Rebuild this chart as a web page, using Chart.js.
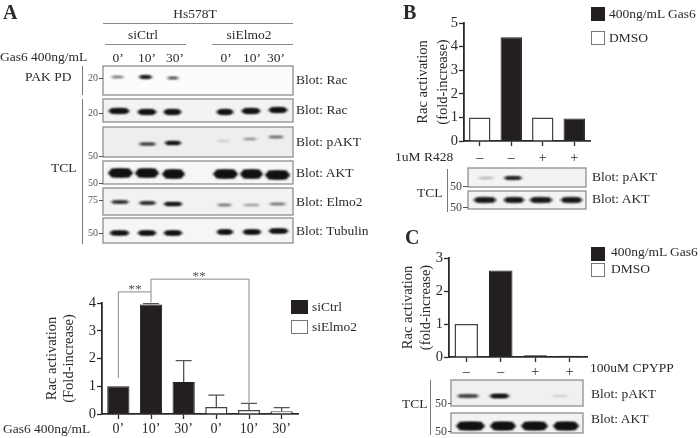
<!DOCTYPE html>
<html><head><meta charset="utf-8">
<script src="https://cdn.jsdelivr.net/npm/chart.js@4"></script>
<style>
html,body{margin:0;padding:0;background:#fff;width:700px;height:438px;overflow:hidden}
#stage{position:relative;width:700px;height:438px;font-family:"Liberation Serif",serif;color:#2a2a2a}
canvas{position:absolute}
.t{position:absolute;white-space:pre;line-height:1}
.sw{position:absolute;box-sizing:border-box}
</style></head><body><div id="stage"><canvas id="blots" width="700" height="438" style="left:0;top:0"></canvas></div>
<script>
// ---------- chart data ----------
const timeLabels = ['0’','10’','30’','0’','10’','30’'];
const aSiCtrl  = [1.0,3.95,1.15,null,null,null];
const aSiElmo2 = [null,null,null,0.25,0.14,0.1];
const aErrorTop = [null,3.98,1.92,0.68,0.38,0.23];
const bLabels = ['–','–','+','+'];
const bGas6 = [null,4.4,null,0.95];
const bDmso = [1,null,1,null];
const cLabels = ['–','–','+','+'];
const cGas6 = [null,2.62,0.05,0.04];
const cDmso = [1,null,null,null];
// significance brackets, in category index / axis value
const aBrackets = [
  {from:0,to:1,top:4.4,fromEnd:1.3,toEnd:4.02},
  {from:1,to:4,top:4.86,fromEnd:4.4,toEnd:0.43}
];
// blot band strengths (0..1) per lane
const laneRacPD  = [0.4,0.95,0.55,0,0,0];
const laneRacTCL = [1,1,1,1,1,1];
const lanePAkt   = [0,0.65,1,0.1,0.28,0.42];
const laneAkt    = [1,1,1,1,1,1];
const laneElmo2  = [0.75,0.8,1,0.4,0.25,0.4];
const laneTubulin= [0.95,1,1,1,1,1];
const bPAkt = [0.18,0.9,0,0];
const bAkt  = [0.85,0.85,0.85,0.85];
const cPAkt = [0.65,1,0,0.08];
const cAkt  = [1,1,1,1];

// ---------- page text ----------
const stage = document.getElementById('stage');
function T(s,x,y,o={}){
  const e=document.createElement('div');e.className='t';e.textContent=s;
  const a=o.a==='c'?'-50%':(o.a==='r'?'-100%':'0');
  e.style.left=x+'px';e.style.top=y+'px';e.style.transform=`translate(${a},-50%)`;
  e.style.fontSize=(o.s||13.5)+'px';
  if(o.b)e.style.fontWeight='bold';
  if(o.c)e.style.color=o.c;
  stage.appendChild(e);
}
function L(x,y,w,h,c){const e=document.createElement('div');e.className='sw';
  e.style.cssText+=`left:${x}px;top:${y}px;width:${w}px;height:${h}px;background:${c}`;stage.appendChild(e);}
function SW(x,y,w,h,black){const e=document.createElement('div');e.className='sw';
  e.style.cssText+=`left:${x}px;top:${y}px;width:${w}px;height:${h}px;background:${black?'#231f20':'#fff'};border:1.5px solid ${black?'#231f20':'#777'}`;stage.appendChild(e);}

T('A',3,12,{s:20,b:1});T('B',403,12,{s:20,b:1});T('C',405,237,{s:20,b:1});
T('Hs578T',195,14,{a:'c'});L(103,23,190,1,'#888');
T('siCtrl',143,35,{a:'c'});L(105,44,81,1,'#888');
T('siElmo2',249,35,{a:'c'});L(212,44,81,1,'#888');
T('Gas6 400ng/mL',0,57);
[118,147,175,226,252,276].forEach((x,i)=>T(timeLabels[i],x,58,{a:'c'}));
T('PAK PD',25,77);T('TCL',51,168);
L(82,66,1,29,'#777');L(82,99,1,145,'#777');
[['20',78],['20',113],['50',156],['50',183],['75',200],['50',233]].forEach(([s,y])=>{T(s,98,y,{a:'r',s:10,c:'#555'});L(99,y,4,1,'#555');});
[['Blot: Rac',80],['Blot: Rac',110],['Blot: pAKT',142],['Blot: AKT',173],['Blot: Elmo2',202],['Blot: Tubulin',231]].forEach(([s,y])=>T(s,296,y));
T('Gas6 400ng/mL',3,429);
T('**',135,289,{a:'c',c:'#555'});T('**',199,276,{a:'c',c:'#555'});
SW(291,300,17,14,true);T('siCtrl',312,307);
SW(291,320,17,14,false);T('siElmo2',312,327);
// B
SW(591,7,14,14,true);T('400ng/mL Gas6',609,14);
SW(591,31,14,14,false);T('DMSO',609,38);
T('1uM R428',395,157);T('TCL',417,193);L(447,169,1,43,'#777');
[['50',186],['50',207]].forEach(([s,y])=>{T(s,462,y,{a:'r',s:12,c:'#444'});L(463,y,5,1,'#555');});
T('Blot: pAKT',592,177);T('Blot: AKT',592,199);
// C
SW(591,247,14,14,true);T('400ng/mL Gas6',611,252);
SW(591,263,14,14,false);T('DMSO',611,269);
T('100uM CPYPP',590,368);T('TCL',402,404);L(430,380,1,55,'#777');
[['50',403],['50',431]].forEach(([s,y])=>{T(s,447,y,{a:'r',s:12,c:'#444'});L(448,y,3,1,'#555');});
T('Blot: pAKT',591,394);T('Blot: AKT',591,419);

// ---------- blot panels (photographic decoration) ----------
const bx=document.getElementById('blots').getContext('2d');
function blot(x0,x1,y0,y1,bg,lanes,ys,strength,h){
  bx.fillStyle=bg;bx.fillRect(x0,y0,x1-x0,y1-y0);
  bx.save();bx.beginPath();bx.rect(x0,y0,x1-x0,y1-y0);bx.clip();
  bx.filter='blur(1px)';
  lanes.forEach((l,i)=>{const v=strength[i];if(!v)return;
    const y=Array.isArray(ys)?ys[i]:ys;
    const hh=h*(0.5+0.5*v);
    bx.fillStyle=`rgba(18,16,16,${Math.min(1,v)})`;
    bx.beginPath();bx.ellipse((l[0]+l[1])/2,y,(l[1]-l[0])/2,hh/2,0,0,Math.PI*2);bx.fill();
    bx.fillRect(l[0]+3,y-hh/2,l[1]-l[0]-6,hh);
  });
  bx.restore();
  bx.strokeStyle='#858585';bx.lineWidth=1.2;
  bx.strokeRect(x0,y0,x1-x0,y1-y0);
}
const A1=[[110,125],[138,153],[166,180],[0,0],[0,0],[0,0]];
blot(103,293,66,95,'#fcfcfc',A1,[77,77,78,0,0,0],laneRacPD,3);
blot(103,293,99,122,'#f3f3f3',[[108,130],[137,157],[163,182],[216,234],[241,261],[268,288]],[111,112,112,112,111,110],laneRacTCL,5);
blot(103,293,127,157,'#eeeeee',[[0,0],[138,157],[164,182],[215,232],[242,258],[267,285]],[0,144,143,141,139,137],lanePAkt,3.2);
blot(103,293,161,184,'#f7f7f7',[[108,133],[135,159],[162,185],[213,238],[240,263],[265,290]],[173,173,174,174,174,175],laneAkt,8.5);
blot(103,293,188,215,'#f2f2f2',[[110,130],[138,157],[163,183],[216,233],[242,261],[268,287]],[202,203,204,205,205,204],laneElmo2,3.2);
blot(103,293,218,243,'#f6f6f6',[[109,130],[137,157],[163,183],[216,234],[242,262],[268,289]],[233,233,233,232,232,231],laneTubulin,4.5);
blot(468,586,168,187,'#f3f3f3',[[477,495],[503,523],[0,0],[0,0]],178,bPAkt,3);
blot(468,586,191,209,'#f3f3f3',[[473,497],[503,525],[529,553],[560,583]],200,bAkt,5.5);
blot(451,583,380,406,'#f0f0f0',[[456,480],[489,510],[0,0],[550,570]],[396,396,0,396],cPAkt,3.6);
blot(451,583,413,433,'#f3f3f3',[[456,485],[490,516],[521,548],[553,579]],[426,426,426,426],cAkt,8);

// ---------- charts ----------
const INK='#2a2a2a', BLACK='#231f20', EDGE='#444';
const errorBars={id:'errorBars',afterDatasetsDraw(ch,_,o){
  if(!o.top)return;
  const {x,y}=ch.scales,c=ch.ctx;c.save();c.strokeStyle='#555';c.lineWidth=1.3;
  o.top.forEach((t,i)=>{if(t==null)return;
    const bottom=o.base[i],px=x.getPixelForValue(i),py=y.getPixelForValue(t);
    c.beginPath();c.moveTo(px,y.getPixelForValue(bottom));c.lineTo(px,py);
    c.moveTo(px-8,py);c.lineTo(px+8,py);c.stroke();});
  c.restore();}};
const brackets={id:'brackets',afterDatasetsDraw(ch,_,o){
  if(!o.items)return;
  const {x,y}=ch.scales,c=ch.ctx;c.save();c.strokeStyle='#888';c.lineWidth=1;
  o.items.forEach(b=>{const a=x.getPixelForValue(b.from),d=x.getPixelForValue(b.to),t=y.getPixelForValue(b.top);
    c.beginPath();c.moveTo(a,y.getPixelForValue(b.fromEnd));c.lineTo(a,t);c.lineTo(d,t);c.lineTo(d,y.getPixelForValue(b.toEnd));c.stroke();});
  c.restore();}};
function barChart(cfg){
  const cv=document.createElement('canvas');cv.width=cfg.w;cv.height=cfg.h;
  cv.style.left=cfg.left+'px';cv.style.top=cfg.top+'px';stage.appendChild(cv);
  const font={family:'"Liberation Serif",serif',size:14.5};
  new Chart(cv,{type:'bar',data:{labels:cfg.labels,datasets:[
    {label:cfg.names[0],data:cfg.black,backgroundColor:BLACK,borderColor:BLACK,borderWidth:1},
    {label:cfg.names[1],data:cfg.white,backgroundColor:'#fff',borderColor:EDGE,borderWidth:1.5}]},
   options:{responsive:false,animation:false,
    layout:{padding:{left:0,top:cfg.padTop,right:cfg.padRight,bottom:0}},
    datasets:{bar:{barPercentage:0.68,categoryPercentage:1}},
    plugins:{legend:{display:false},tooltip:{enabled:false},
      errorBars:cfg.err||{},brackets:cfg.br||{}},
    scales:{
     x:{stacked:true,offset:true,
        afterFit:s=>{s.height=cfg.xH;},
        grid:{offset:false,drawOnChartArea:false,drawTicks:true,tickLength:5,tickWidth:1.3,tickColor:INK},
        border:{color:INK,width:1.8},
        ticks:{color:INK,font:{...font,size:14},padding:cfg.xPad,maxRotation:0,autoSkip:false}},
     y:{stacked:false,min:0,max:cfg.max,
        afterFit:s=>{s.width=cfg.yW;},
        grid:{drawOnChartArea:false,drawTicks:true,tickLength:5,tickWidth:1.3,tickColor:INK},
        border:{color:INK,width:1.8},
        ticks:{stepSize:1,color:INK,font,padding:1},
        title:{display:true,text:cfg.title,color:INK,font:{...font,lineHeight:cfg.titleLH},padding:{top:cfg.titlePad,bottom:0}}}
    }},plugins:[errorBars,brackets]});
}
barChart({left:40,top:265,w:265,h:173,yW:62,xH:24,padTop:38,padRight:7,xPad:2,max:4,labels:timeLabels,
  names:['siCtrl','siElmo2'],black:aSiCtrl,white:aSiElmo2,
  title:['Rac activation','(Fold-increase)'],titleLH:1.17,titlePad:4,
  err:{top:aErrorTop,base:aSiCtrl.map((v,i)=>v??aSiElmo2[i])},br:{items:aBrackets}});
barChart({left:412,top:0,w:183,h:170,yW:52,xH:29,padTop:23,padRight:5,xPad:4,max:5,labels:bLabels,
  names:['400ng/mL Gas6','DMSO'],black:bGas6,white:bDmso,
  title:['Rac activation','(fold-increase)'],titleLH:1.38,titlePad:1});
barChart({left:396,top:245,w:195,h:135,yW:53,xH:23,padTop:13,padRight:4,xPad:2,max:3,labels:cLabels,
  names:['400ng/mL Gas6','DMSO'],black:cGas6,white:cDmso,
  title:['Rac activation','(fold-increase)'],titleLH:1.24,titlePad:3});
</script></body></html>
